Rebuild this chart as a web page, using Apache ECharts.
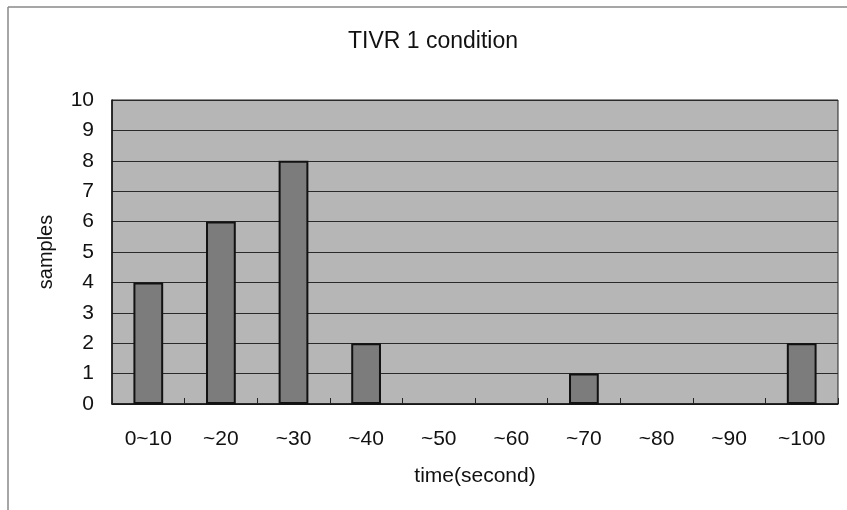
<!DOCTYPE html>
<html>
<head>
<meta charset="utf-8">
<script src="https://cdn.jsdelivr.net/npm/echarts@6/dist/echarts.min.js"></script>
<style>
  html, body { margin: 0; padding: 0; background: #fff; }
  #chart { width: 847px; height: 510px; }
</style>
</head>
<body>
<div id="chart"></div>
<script>
// data
let categories = ['0~10', '~20', '~30', '~40', '~50', '~60', '~70', '~80', '~90', '~100']
let samples = [4, 6, 8, 2, 0, 0, 1, 0, 0, 2]
let yTicks = [0, 1, 2, 3, 4, 5, 6, 7, 8, 9, 10]

let myChart = echarts.init(document.getElementById('chart'))
let font = 'Liberation Sans, Arial, sans-serif'
let option = {
  animation: false,
  backgroundColor: '#fff',
  textStyle: { fontFamily: font },
  title: {
    text: 'TIVR 1 condition',
    left: 343,
    top: 25,
    textStyle: { fontSize: 23, fontWeight: 'normal', color: '#111', fontFamily: font }
  },
  // outer chart frame (only top and left edges visible)
  graphic: [
    { type: 'line', shape: { x1: 8, y1: 7, x2: 847, y2: 7 }, style: { stroke: '#888', lineWidth: 1.5 } },
    { type: 'line', shape: { x1: 8, y1: 7, x2: 8, y2: 510 }, style: { stroke: '#888', lineWidth: 1.5 } }
  ],
  grid: {
    left: 112,
    right: 9,
    top: 100,
    bottom: 106,
    show: true,
    backgroundColor: '#b6b6b6',
    borderColor: '#222',
    borderWidth: 1
  },
  xAxis: {
    type: 'category',
    data: categories,
    name: 'time(second)',
    nameLocation: 'middle',
    nameGap: 62,
    nameTextStyle: { fontSize: 21, color: '#111', fontFamily: font },
    axisLine: { lineStyle: { color: '#111', width: 1.5 } },
    axisTick: { show: true, inside: true, length: 6, lineStyle: { color: '#222' } },
    axisLabel: { fontSize: 21, color: '#111', margin: 25, fontFamily: font }
  },
  yAxis: {
    type: 'value',
    min: 0,
    max: 10,
    interval: 1,
    name: 'samples',
    nameLocation: 'middle',
    nameGap: 56,
    nameRotate: 90,
    nameTextStyle: { fontSize: 20, color: '#111', fontFamily: font },
    axisLine: { show: true, lineStyle: { color: '#111', width: 1.5 } },
    axisTick: { show: false },
    axisLabel: {
      fontSize: 21,
      color: '#111',
      margin: 18,
      fontFamily: font,
      formatter: v => yTicks.includes(v) ? String(v) : ''
    },
    splitLine: { show: true, lineStyle: { color: '#2a2a2a', width: 1 } }
  },
  series: [
    {
      type: 'bar',
      // zero-height bars should leave no outline on the axis
      data: samples.map(v => v === 0 ? { value: v, itemStyle: { borderWidth: 0 } } : v),
      barWidth: '41%',
      itemStyle: { color: '#7c7c7c', borderColor: '#111', borderWidth: 2 }
    }
  ]
}
myChart.setOption(option)
</script>
</body>
</html>
